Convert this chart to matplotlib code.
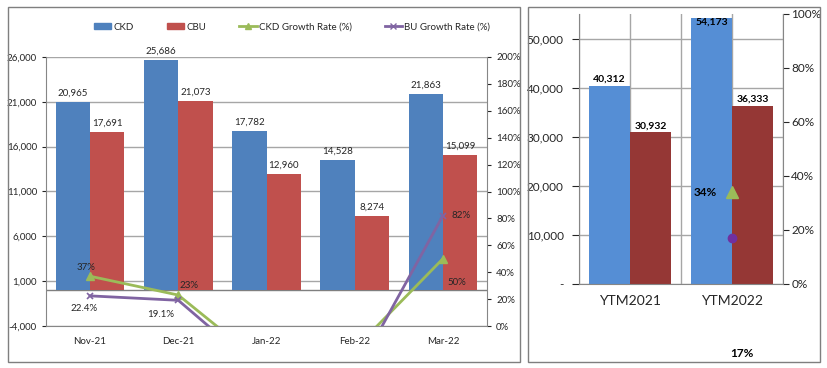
import matplotlib.pyplot as plt
import numpy as np
from matplotlib.patches import Rectangle
from matplotlib.lines import Line2D

plt.rcParams['font.family'] = ['Lato', 'DejaVu Sans']

# monthly data
months = ['Nov-21', 'Dec-21', 'Jan-22', 'Feb-22', 'Mar-22']
ckd = [20965, 25686, 17782, 14528, 21863]
cbu = [17691, 21073, 12960, 8274, 15099]
ckd_growth = [37, 23, -30, -17, 50]
bu_growth = [22.4, 19.1, -37, -37, 82]

# year-to-month totals
ytm = ['YTM2021', 'YTM2022']
ytm_ckd = [40312, 54173]
ytm_cbu = [30932, 36333]
ytm_ckd_growth = 34
ytm_bu_growth = 17

blue = '#4F81BD'
red = '#C0504D'
green = '#9BBB59'
purple = '#8064A2'
grid_c = '#A6A6A6'
txt = '#262626'

fig = plt.figure(figsize=(8.27, 3.68), dpi=100)

# panel borders
fig.patches.append(Rectangle((8 / 827, 1 - 362 / 368), 512 / 827, 355 / 368,
                             transform=fig.transFigure, fill=False, ec='#7F7F7F', lw=1))
fig.patches.append(Rectangle((528 / 827, 1 - 362 / 368), 292 / 827, 355 / 368,
                             transform=fig.transFigure, fill=False, ec='#7F7F7F', lw=1))

# ---- left chart ----
ax = fig.add_axes([46 / 827, 1 - 326 / 368, 441 / 827, 269 / 368])
x = np.arange(len(months))
w = 0.39
b1 = ax.bar(x - w / 2, ckd, w, color=blue, zorder=2)
b2 = ax.bar(x + w / 2, cbu, w, color=red, zorder=2)
ax.set_ylim(-4000, 26000)
ax.set_xlim(-0.5, 4.5)
ax.set_yticks(np.arange(-4000, 26001, 5000))
ax.set_yticklabels([f'{v:,}' for v in range(-4000, 26001, 5000)])
ax.yaxis.grid(True, color=grid_c, lw=1, zorder=0)
ax.axhline(0, color='#7F7F7F', lw=1, zorder=1)
ax.set_xticks(x)
ax.set_xticklabels(months)
ax.tick_params(axis='x', length=0, pad=8, labelsize=7, colors=txt)
ax.tick_params(axis='y', length=3, labelsize=7, colors=txt)
for s in ['top', 'right']:
    ax.spines[s].set_visible(False)
for s in ['left', 'bottom']:
    ax.spines[s].set_color('#868686')

for bars, vals in [(b1, ckd), (b2, cbu)]:
    for r, v in zip(bars, vals):
        ax.annotate(f'{v:,}', (r.get_x() + r.get_width() / 2, v), xytext=(0, 4),
                    textcoords='offset pixels', ha='center', va='bottom',
                    fontsize=7, color=txt)

ax2 = ax.twinx()
ax2.set_ylim(0, 200)
ax2.set_yticks(np.arange(0, 201, 20))
ax2.set_yticklabels([f'{v}%' for v in range(0, 201, 20)])
ax2.tick_params(axis='y', length=3, labelsize=7, colors=txt)
for s in ['top', 'left', 'bottom']:
    ax2.spines[s].set_visible(False)
ax2.spines['right'].set_color('#868686')
ax2.plot(x, ckd_growth, color=green, lw=2, marker='^', ms=6, zorder=3)
ax2.plot(x, bu_growth, color=purple, lw=2, marker='x', ms=5, mew=1.2, zorder=3)

lab_off = {(0, 'g'): (-4, 9), (1, 'g'): (11, 10), (4, 'g'): (14, -24),
           (0, 'p'): (-6, -13), (1, 'p'): (-18, -14), (4, 'p'): (18, 0)}
for (i, k), off in lab_off.items():
    v = ckd_growth[i] if k == 'g' else bu_growth[i]
    s = f'{v:.0f}%' if k == 'g' or i == 4 else f'{v:.1f}%'
    ax2.annotate(s, (x[i], v), xytext=off, textcoords='offset pixels',
                 ha='center', va='center', fontsize=7, color=txt)

handles = [Rectangle((0, 0), 1, 1, color=blue), Rectangle((0, 0), 1, 1, color=red),
           Line2D([], [], color=green, lw=2, marker='^', ms=5),
           Line2D([], [], color=purple, lw=2, marker='x', ms=5)]
fig.legend(handles, ['CKD', 'CBU', 'CKD Growth Rate (%)', 'BU Growth Rate (%)'],
           loc='center', bbox_to_anchor=(292 / 827, 1 - 27 / 368), ncol=4,
           frameon=False, fontsize=7, handlelength=1.8, handleheight=0.6,
           columnspacing=3.4, handletextpad=0.2, labelcolor=txt)

# ---- right chart ----
ax3 = fig.add_axes([579 / 827, 1 - 284 / 368, 204 / 827, 270 / 368])
xr = np.arange(len(ytm))
w2 = 0.4
r1 = ax3.bar(xr - w2 / 2, ytm_ckd, w2, color='#558ED5', zorder=2)
r2 = ax3.bar(xr + w2 / 2, ytm_cbu, w2, color='#953735', zorder=2)
ax3.set_xlim(-0.5, 1.5)
ax3.set_ylim(0, 55000)
ax3.set_yticks(np.arange(0, 50001, 10000))
ax3.set_yticklabels(['-'] + [f'{v:,}' for v in range(10000, 50001, 10000)])
ax3.set_xticks(xr)
ax3.set_xticklabels(ytm)
ax3.set_xticks([-0.5, 0.5, 1.5], minor=True)
ax3.grid(True, which='both', color=grid_c, lw=1, zorder=0)
ax3.tick_params(axis='x', which='both', length=0, pad=8, labelsize=10, colors=txt)
ax3.tick_params(axis='y', length=5, labelsize=8.5, colors=txt, pad=6)
ax3.spines['top'].set_visible(False)
ax3.spines['right'].set_visible(False)
for s in ['left', 'bottom']:
    ax3.spines[s].set_color('#868686')
top = ax3.get_ylim()[1]
for bars, vals in [(r1, ytm_ckd), (r2, ytm_cbu)]:
    for r, v in zip(bars, vals):
        # a label that would run past the top sits just inside the bar
        if v > 0.95 * top:
            off, va = (0, -4), 'center'
        else:
            off, va = (0, 2), 'bottom'
        ax3.annotate(f'{v:,}', (r.get_x() + r.get_width() / 2, v), xytext=off,
                     textcoords='offset pixels', ha='center', va=va,
                     fontsize=7.5, fontweight='bold', color='black')

ax4 = ax3.twinx()
ax4.set_ylim(0, 100)
ax4.set_yticks(np.arange(0, 101, 20))
ax4.set_yticklabels([f'{v}%' for v in range(0, 101, 20)])
ax4.tick_params(axis='y', length=4, labelsize=8.5, colors=txt, pad=2)
for s in ['top', 'left', 'bottom']:
    ax4.spines[s].set_visible(False)
ax4.spines['right'].set_color('#868686')
ax4.plot([xr[1]], [ytm_ckd_growth], ls='none', marker='^', ms=8, color=green, zorder=3)
ax4.plot([xr[1]], [ytm_bu_growth], ls='none', marker='o', ms=6, color='#7030A0', zorder=3)
ax4.annotate(f'{ytm_ckd_growth}%', (xr[1], ytm_ckd_growth), xytext=(-27, 0),
             textcoords='offset pixels', ha='center', va='center',
             fontsize=8.5, fontweight='bold', color='black')
ax4.annotate(f'{ytm_bu_growth}%', (xr[1], ytm_bu_growth), xytext=(10, -115),
             textcoords='offset pixels', ha='center', va='center',
             fontsize=8.5, fontweight='bold', color='black', annotation_clip=False)

fig.savefig('out.png', dpi=100)
